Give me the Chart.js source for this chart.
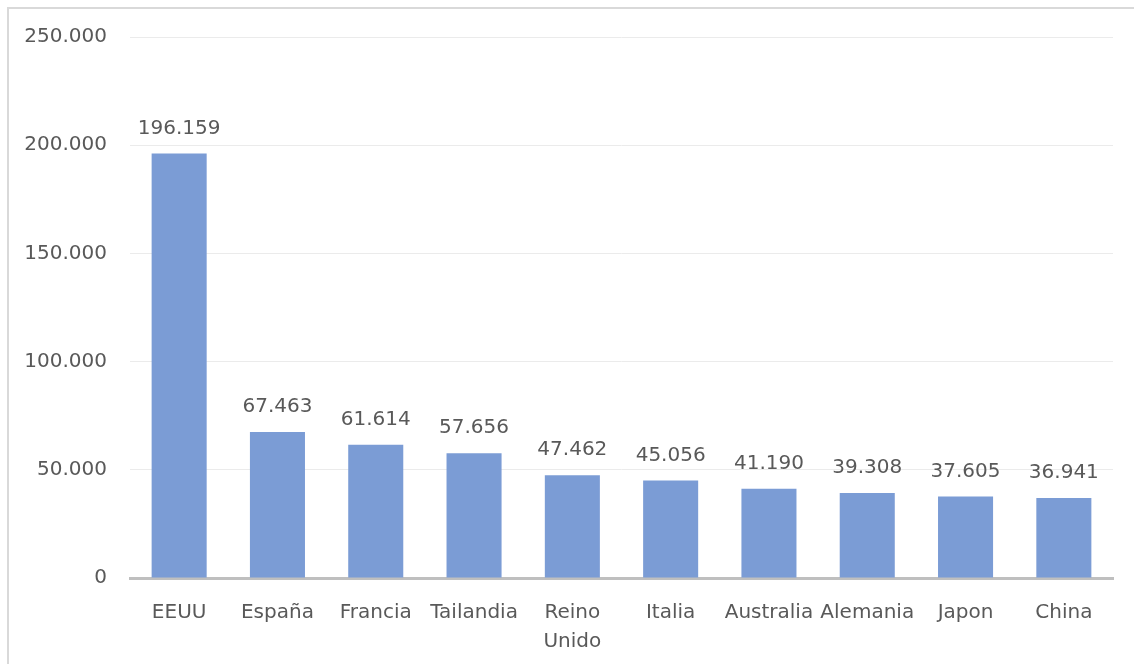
<!DOCTYPE html>
<html>
<head>
<meta charset="utf-8">
<script src="https://cdn.jsdelivr.net/npm/chart.js@4"></script>
<style>
  html, body { margin: 0; padding: 0; background: #fff; }
  #marco { position: absolute; left: 7px; top: 7px; width: 1140px; height: 700px; border: 2px solid #d9d9d9; box-sizing: border-box; }
  #lienzo { position: absolute; left: 0; top: 0; width: 1134px; height: 664px; }
</style>
</head>
<body>
<div id="marco"></div>
<div id="lienzo"><canvas id="grafico"></canvas></div>
<script>
// Datos
const paises = ['EEUU', 'España', 'Francia', 'Tailandia', ['Reino', 'Unido'], 'Italia', 'Australia', 'Alemania', 'Japon', 'China'];
const valores = [196159, 67463, 61614, 57656, 47462, 45056, 41190, 39308, 37605, 36941];
const ticksY = [0, 50000, 100000, 150000, 200000, 250000];

const fmt = v => v.toLocaleString('de-DE');
const fuente = { family: 'DejaVu Sans', size: 20, lineHeight: 1.45 };
const gris = '#595959';

// etiquetas encima de las barras
const etiquetas = {
  id: 'etiquetas',
  afterDatasetsDraw(chart) {
    const ctx = chart.ctx;
    const meta = chart.getDatasetMeta(0);
    ctx.save();
    ctx.font = '20px "DejaVu Sans"';
    ctx.fillStyle = gris;
    ctx.textAlign = 'center';
    ctx.textBaseline = 'middle';
    meta.data.forEach((bar, i) => {
      ctx.fillText(fmt(valores[i]), bar.x, bar.y - 25);
    });
    ctx.restore();
  }
};

new Chart(document.getElementById('grafico').getContext('2d'), {
  type: 'bar',
  data: {
    labels: paises,
    datasets: [{
      data: valores,
      backgroundColor: '#7b9cd5',
      categoryPercentage: 1,
      barPercentage: 0.56
    }]
  },
  options: {
    responsive: true,
    maintainAspectRatio: false,
    animation: false,
    layout: { padding: { top: 37, right: 21, left: 0, bottom: 0 } },
    plugins: { legend: { display: false }, tooltip: { enabled: false } },
    scales: {
      x: {
        grid: { display: false },
        border: { color: '#bfbfbf', width: 3 },
        ticks: { color: gris, font: fuente, maxRotation: 0, autoSkip: false, padding: 12 },
        afterFit: s => { s.height = 86; }
      },
      y: {
        min: 0, max: 250000,
        afterBuildTicks: s => { s.ticks = ticksY.map(v => ({ value: v })); },
        grid: { color: '#ebebeb', lineWidth: 1, drawTicks: false },
        border: { display: false },
        ticks: { color: gris, font: { family: 'DejaVu Sans', size: 20 }, padding: 23, callback: v => fmt(v) },
        afterFit: s => { s.width = 130; }
      }
    }
  },
  plugins: [etiquetas]
});
</script>
</body>
</html>
